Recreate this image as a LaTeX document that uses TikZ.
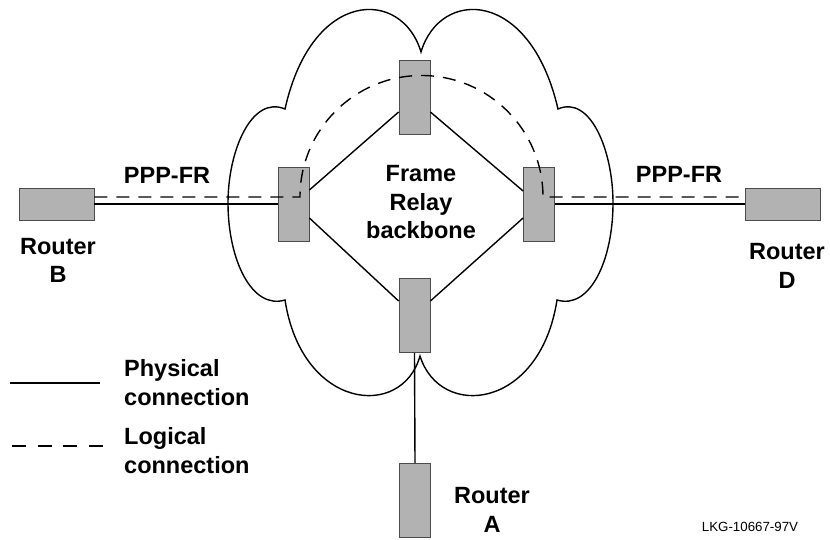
\documentclass[tikz,border=0pt]{standalone}
\usepackage{fontspec}
\setmainfont{Liberation Sans}
\usepackage{tikz}
\usepackage{xcolor}

\definecolor{routergray}{gray}{0.7}
\definecolor{routeredge}{gray}{0.3}

\tikzset{
  router/.style={draw=routeredge, fill=routergray, line width=0.8pt, inner sep=0pt},
  routerh/.style={router, minimum width=75pt, minimum height=32pt},
  routerv/.style={router, minimum width=31pt, minimum height=74pt},
  physical/.style={line width=1.4pt},
  logical/.style={line width=1.4pt, dash pattern=on 13pt off 9pt},
  lbltext/.style={font=\fontsize{23.5}{28.5}\selectfont\bfseries, align=center, inner sep=0pt}
}

\begin{document}
\begin{tikzpicture}[x=1pt,y=-1pt]
  \useasboundingbox (0,0) rectangle (830,540);

  % Frame Relay cloud
  \draw[line width=1.4pt] (421,52) .. controls (440,-12) and (530,-12) .. (558,109)
    .. controls (590,95) and (613,150) .. (613,203)
    .. controls (613,260) and (590,310) .. (557,300)
    .. controls (540,410) and (440,420) .. (420,356)
    .. controls (402,420) and (302,410) .. (285,300)
    .. controls (252,310) and (228,260) .. (228,203)
    .. controls (228,150) and (252,95) .. (285,109)
    .. controls (312,-12) and (402,-12) .. cycle;

  % Routers
  \node[routerh] (rtB) at (56.5,204) {}; % Router B
  \node[routerh] (rtD) at (783,204) {}; % Router D
  \node[routerv] (rtL) at (293.5,204) {};
  \node[routerv] (rtR) at (539,204) {};
  \node[routerv] (rtT) at (414.5,97) {};
  \node[routerv] (rtM) at (414.5,315.5) {};
  \node[routerv] (rtA) at (415,500.5) {}; % Router A

  % Backbone links
  \draw[physical] ([yshift=14pt]rtL.east) -- ([yshift=-15pt]rtT.west);
  \draw[physical] ([yshift=-15pt]rtT.east) -- ([yshift=13pt]rtR.west);
  \draw[physical] ([yshift=-14pt]rtL.east) -- ([yshift=14.5pt]rtM.west);
  \draw[physical] ([yshift=14.5pt]rtM.east) -- ([yshift=-14pt]rtR.west);

  % Access links
  \draw[physical] (rtB.east) -- (rtL.west);
  \draw[physical] (rtR.east) -- (rtD.west);
  \draw[physical] (rtM.south) -- (rtA.north);

  % Logical PPP-FR connection across the cloud
  \coordinate (arcL) at (300,197);
  \draw[logical] ([yshift=7pt]rtB.east) -- (arcL) arc[start angle=180, end angle=0, radius=121.5pt] -- ([yshift=7pt]rtD.west);

  % Labels (base = last line)
  \node[lbltext, anchor=base] (lblPB) at (167,184) {PPP-FR};
  \node[lbltext, anchor=base] (lblPD) at (679,183) {PPP-FR};
  \node[lbltext, anchor=base] (lblB) at (58,283) {Router\\B};
  \node[lbltext, anchor=base] (lblD) at (787,288) {Router\\D};
  \node[lbltext, anchor=base] (lblA) at (492,532) {Router\\A};
  \node[lbltext, anchor=base] (lblFR) at (421,239) {Frame\\Relay\\backbone};

  % Legend
  \coordinate (physA) at (10,383);
  \coordinate (physB) at (100,383);
  \coordinate (logA) at (12,446);
  \coordinate (logB) at (103,446);
  \draw[physical] (physA) -- (physB);
  \draw[logical, dash pattern=on 14pt off 11.7pt] (logA) -- (logB);
  \node[lbltext, align=left, anchor=base west] (lblPhys) at (124,405) {Physical\\connection};
  \node[lbltext, align=left, anchor=base west] (lblLog) at (124,473) {Logical\\connection};

  \node[font=\fontsize{13.3}{16}\selectfont, anchor=base] (lblFig) at (750,531) {LKG-10667-97V};

\end{tikzpicture}
\end{document}
